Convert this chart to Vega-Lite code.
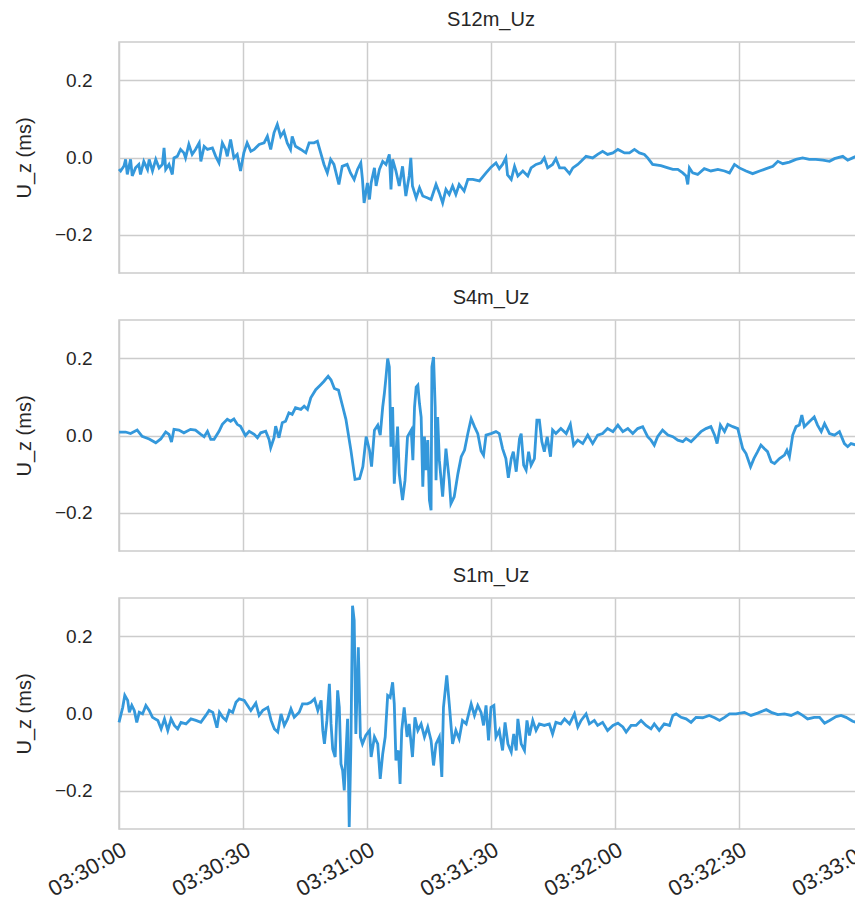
{
  "$schema": "https://vega.github.io/schema/vega-lite/v6.json",
  "padding": {"left": 13, "top": 9, "right": 0, "bottom": 5},
  "config": {
    "font": "Liberation Sans",
    "view": {"stroke": "#cccccc", "strokeWidth": 1.5},
    "axis": {"grid": true, "gridColor": "#cccccc", "gridWidth": 1.5, "domain": false, "ticks": false, "labelFontSize": 19, "labelColor": "#262626", "titleFontSize": 20, "titleColor": "#262626", "titleFontWeight": "normal"},
    "title": {"fontSize": 20, "fontWeight": "normal", "color": "#262626", "offset": 12},
    "concat": {"spacing": 13},
    "line": {"color": "#3498db", "strokeWidth": 2.8, "clip": true}
  },
  "datasets": {
    "s12": [
      {"t":"2021-01-01T03:30:00.0","v":-0.03},{"t":"2021-01-01T03:30:00.4","v":-0.035},{"t":"2021-01-01T03:30:01.2","v":-0.022},{"t":"2021-01-01T03:30:01.6","v":-0.005},{"t":"2021-01-01T03:30:02.0","v":-0.044},{"t":"2021-01-01T03:30:02.8","v":-0.005},{"t":"2021-01-01T03:30:03.2","v":-0.048},{"t":"2021-01-01T03:30:04.0","v":-0.027},{"t":"2021-01-01T03:30:04.8","v":-0.018},{"t":"2021-01-01T03:30:05.2","v":-0.044},{"t":"2021-01-01T03:30:06.0","v":-0.01},{"t":"2021-01-01T03:30:06.9","v":-0.031},{"t":"2021-01-01T03:30:07.3","v":-0.005},{"t":"2021-01-01T03:30:08.1","v":-0.035},{"t":"2021-01-01T03:30:08.9","v":-0.005},{"t":"2021-01-01T03:30:09.7","v":-0.027},{"t":"2021-01-01T03:30:10.5","v":-0.018},{"t":"2021-01-01T03:30:10.9","v":0.025},{"t":"2021-01-01T03:30:11.3","v":-0.031},{"t":"2021-01-01T03:30:12.1","v":-0.018},{"t":"2021-01-01T03:30:12.9","v":-0.044},{"t":"2021-01-01T03:30:13.3","v":-0.001},{"t":"2021-01-01T03:30:14.1","v":0.003},{"t":"2021-01-01T03:30:14.9","v":0.021},{"t":"2021-01-01T03:30:15.7","v":0.012},{"t":"2021-01-01T03:30:16.1","v":-0.001},{"t":"2021-01-01T03:30:16.9","v":0.034},{"t":"2021-01-01T03:30:17.7","v":0.008},{"t":"2021-01-01T03:30:18.5","v":0.021},{"t":"2021-01-01T03:30:19.4","v":0.038},{"t":"2021-01-01T03:30:19.8","v":-0.01},{"t":"2021-01-01T03:30:20.6","v":0.029},{"t":"2021-01-01T03:30:21.4","v":0.021},{"t":"2021-01-01T03:30:22.6","v":0.025},{"t":"2021-01-01T03:30:23.4","v":0.003},{"t":"2021-01-01T03:30:24.2","v":-0.014},{"t":"2021-01-01T03:30:25.0","v":0.038},{"t":"2021-01-01T03:30:25.8","v":0.021},{"t":"2021-01-01T03:30:26.2","v":0.003},{"t":"2021-01-01T03:30:27.0","v":0.047},{"t":"2021-01-01T03:30:27.8","v":-0.001},{"t":"2021-01-01T03:30:28.6","v":0.008},{"t":"2021-01-01T03:30:29.4","v":-0.035},{"t":"2021-01-01T03:30:30.2","v":0.012},{"t":"2021-01-01T03:30:31.0","v":0.038},{"t":"2021-01-01T03:30:31.9","v":0.016},{"t":"2021-01-01T03:30:32.7","v":0.021},{"t":"2021-01-01T03:30:33.9","v":0.034},{"t":"2021-01-01T03:30:35.1","v":0.038},{"t":"2021-01-01T03:30:35.9","v":0.055},{"t":"2021-01-01T03:30:36.7","v":0.021},{"t":"2021-01-01T03:30:37.5","v":0.064},{"t":"2021-01-01T03:30:38.3","v":0.086},{"t":"2021-01-01T03:30:39.1","v":0.055},{"t":"2021-01-01T03:30:39.9","v":0.068},{"t":"2021-01-01T03:30:40.7","v":0.038},{"t":"2021-01-01T03:30:41.5","v":0.021},{"t":"2021-01-01T03:30:41.9","v":0.055},{"t":"2021-01-01T03:30:42.7","v":0.029},{"t":"2021-01-01T03:30:44.0","v":0.021},{"t":"2021-01-01T03:30:45.2","v":0.012},{"t":"2021-01-01T03:30:46.0","v":0.038},{"t":"2021-01-01T03:30:47.2","v":0.038},{"t":"2021-01-01T03:30:48.0","v":0.042},{"t":"2021-01-01T03:30:48.8","v":0.012},{"t":"2021-01-01T03:30:49.6","v":-0.018},{"t":"2021-01-01T03:30:50.4","v":-0.04},{"t":"2021-01-01T03:30:51.2","v":-0.005},{"t":"2021-01-01T03:30:52.0","v":-0.018},{"t":"2021-01-01T03:30:53.2","v":-0.07},{"t":"2021-01-01T03:30:54.0","v":-0.023},{"t":"2021-01-01T03:30:55.2","v":-0.018},{"t":"2021-01-01T03:30:56.0","v":-0.04},{"t":"2021-01-01T03:30:56.9","v":-0.057},{"t":"2021-01-01T03:30:57.7","v":-0.031},{"t":"2021-01-01T03:30:58.5","v":-0.014},{"t":"2021-01-01T03:30:58.9","v":-0.057},{"t":"2021-01-01T03:30:59.3","v":-0.118},{"t":"2021-01-01T03:31:00.1","v":-0.066},{"t":"2021-01-01T03:31:00.6","v":-0.109},{"t":"2021-01-01T03:31:01.0","v":-0.066},{"t":"2021-01-01T03:31:01.8","v":-0.027},{"t":"2021-01-01T03:31:02.2","v":-0.074},{"t":"2021-01-01T03:31:03.0","v":-0.031},{"t":"2021-01-01T03:31:03.8","v":-0.01},{"t":"2021-01-01T03:31:04.6","v":-0.018},{"t":"2021-01-01T03:31:05.4","v":0.008},{"t":"2021-01-01T03:31:05.8","v":-0.083},{"t":"2021-01-01T03:31:06.2","v":-0.005},{"t":"2021-01-01T03:31:07.0","v":-0.035},{"t":"2021-01-01T03:31:07.8","v":-0.074},{"t":"2021-01-01T03:31:08.6","v":-0.023},{"t":"2021-01-01T03:31:09.4","v":-0.1},{"t":"2021-01-01T03:31:10.2","v":-0.048},{"t":"2021-01-01T03:31:10.6","v":-0.001},{"t":"2021-01-01T03:31:11.0","v":-0.074},{"t":"2021-01-01T03:31:11.9","v":-0.105},{"t":"2021-01-01T03:31:12.7","v":-0.079},{"t":"2021-01-01T03:31:13.5","v":-0.1},{"t":"2021-01-01T03:31:14.7","v":-0.105},{"t":"2021-01-01T03:31:15.5","v":-0.109},{"t":"2021-01-01T03:31:16.7","v":-0.07},{"t":"2021-01-01T03:31:17.5","v":-0.092},{"t":"2021-01-01T03:31:18.3","v":-0.118},{"t":"2021-01-01T03:31:19.1","v":-0.083},{"t":"2021-01-01T03:31:19.9","v":-0.096},{"t":"2021-01-01T03:31:20.7","v":-0.074},{"t":"2021-01-01T03:31:21.5","v":-0.096},{"t":"2021-01-01T03:31:22.3","v":-0.07},{"t":"2021-01-01T03:31:23.5","v":-0.087},{"t":"2021-01-01T03:31:24.4","v":-0.057},{"t":"2021-01-01T03:31:25.6","v":-0.057},{"t":"2021-01-01T03:31:27.2","v":-0.061},{"t":"2021-01-01T03:31:28.8","v":-0.04},{"t":"2021-01-01T03:31:30.0","v":-0.025},{"t":"2021-01-01T03:31:31.2","v":-0.014},{"t":"2021-01-01T03:31:32.0","v":-0.029},{"t":"2021-01-01T03:31:32.8","v":-0.018},{"t":"2021-01-01T03:31:33.6","v":-0.001},{"t":"2021-01-01T03:31:34.0","v":-0.045},{"t":"2021-01-01T03:31:34.9","v":-0.057},{"t":"2021-01-01T03:31:35.7","v":-0.023},{"t":"2021-01-01T03:31:36.5","v":-0.048},{"t":"2021-01-01T03:31:37.7","v":-0.035},{"t":"2021-01-01T03:31:38.9","v":-0.048},{"t":"2021-01-01T03:31:39.7","v":-0.027},{"t":"2021-01-01T03:31:40.9","v":-0.018},{"t":"2021-01-01T03:31:42.1","v":-0.014},{"t":"2021-01-01T03:31:42.9","v":-0.001},{"t":"2021-01-01T03:31:43.7","v":-0.027},{"t":"2021-01-01T03:31:44.9","v":-0.018},{"t":"2021-01-01T03:31:45.7","v":-0.003},{"t":"2021-01-01T03:31:46.6","v":-0.027},{"t":"2021-01-01T03:31:47.8","v":-0.027},{"t":"2021-01-01T03:31:49.0","v":-0.042},{"t":"2021-01-01T03:31:49.8","v":-0.027},{"t":"2021-01-01T03:31:51.0","v":-0.018},{"t":"2021-01-01T03:31:51.8","v":-0.01},{"t":"2021-01-01T03:31:53.0","v":0.003},{"t":"2021-01-01T03:31:54.6","v":-0.001},{"t":"2021-01-01T03:31:55.8","v":0.008},{"t":"2021-01-01T03:31:57.0","v":0.016},{"t":"2021-01-01T03:31:58.2","v":0.008},{"t":"2021-01-01T03:31:59.5","v":0.012},{"t":"2021-01-01T03:32:00.7","v":0.021},{"t":"2021-01-01T03:32:02.3","v":0.012},{"t":"2021-01-01T03:32:03.5","v":0.012},{"t":"2021-01-01T03:32:04.7","v":0.021},{"t":"2021-01-01T03:32:05.9","v":0.012},{"t":"2021-01-01T03:32:07.1","v":0.008},{"t":"2021-01-01T03:32:07.9","v":-0.001},{"t":"2021-01-01T03:32:09.1","v":-0.018},{"t":"2021-01-01T03:32:11.1","v":-0.021},{"t":"2021-01-01T03:32:12.8","v":-0.027},{"t":"2021-01-01T03:32:14.0","v":-0.031},{"t":"2021-01-01T03:32:15.2","v":-0.031},{"t":"2021-01-01T03:32:16.4","v":-0.04},{"t":"2021-01-01T03:32:17.2","v":-0.048},{"t":"2021-01-01T03:32:17.6","v":-0.07},{"t":"2021-01-01T03:32:18.0","v":-0.027},{"t":"2021-01-01T03:32:18.8","v":-0.04},{"t":"2021-01-01T03:32:20.0","v":-0.044},{"t":"2021-01-01T03:32:21.6","v":-0.029},{"t":"2021-01-01T03:32:23.2","v":-0.035},{"t":"2021-01-01T03:32:24.9","v":-0.031},{"t":"2021-01-01T03:32:26.5","v":-0.035},{"t":"2021-01-01T03:32:27.7","v":-0.04},{"t":"2021-01-01T03:32:28.9","v":-0.018},{"t":"2021-01-01T03:32:30.1","v":-0.027},{"t":"2021-01-01T03:32:31.7","v":-0.035},{"t":"2021-01-01T03:32:33.3","v":-0.042},{"t":"2021-01-01T03:32:35.0","v":-0.035},{"t":"2021-01-01T03:32:36.6","v":-0.029},{"t":"2021-01-01T03:32:38.2","v":-0.023},{"t":"2021-01-01T03:32:39.4","v":-0.01},{"t":"2021-01-01T03:32:40.6","v":-0.016},{"t":"2021-01-01T03:32:42.2","v":-0.012},{"t":"2021-01-01T03:32:43.8","v":-0.005},{"t":"2021-01-01T03:32:45.4","v":-0.001},{"t":"2021-01-01T03:32:47.0","v":-0.005},{"t":"2021-01-01T03:32:48.6","v":-0.005},{"t":"2021-01-01T03:32:50.3","v":-0.007},{"t":"2021-01-01T03:32:51.9","v":-0.01},{"t":"2021-01-01T03:32:53.1","v":-0.003},{"t":"2021-01-01T03:32:55.1","v":0.003},{"t":"2021-01-01T03:32:56.3","v":-0.007},{"t":"2021-01-01T03:32:57.5","v":-0.001},{"t":"2021-01-01T03:32:58.3","v":0.003},{"t":"2021-01-01T03:33:00.0","v":0.002}
    ],
    "s4": [
      {"t":"2021-01-01T03:30:00.0","v":0.009},{"t":"2021-01-01T03:30:01.6","v":0.009},{"t":"2021-01-01T03:30:02.8","v":0.005},{"t":"2021-01-01T03:30:04.4","v":0.014},{"t":"2021-01-01T03:30:05.6","v":-0.002},{"t":"2021-01-01T03:30:07.3","v":-0.009},{"t":"2021-01-01T03:30:08.9","v":-0.019},{"t":"2021-01-01T03:30:10.1","v":-0.009},{"t":"2021-01-01T03:30:11.3","v":0.009},{"t":"2021-01-01T03:30:12.1","v":0.003},{"t":"2021-01-01T03:30:12.7","v":-0.017},{"t":"2021-01-01T03:30:13.3","v":0.016},{"t":"2021-01-01T03:30:14.5","v":0.014},{"t":"2021-01-01T03:30:15.7","v":0.007},{"t":"2021-01-01T03:30:17.3","v":0.016},{"t":"2021-01-01T03:30:18.5","v":0.014},{"t":"2021-01-01T03:30:19.8","v":0.003},{"t":"2021-01-01T03:30:20.6","v":-0.003},{"t":"2021-01-01T03:30:21.4","v":0.011},{"t":"2021-01-01T03:30:22.2","v":-0.01},{"t":"2021-01-01T03:30:23.0","v":-0.01},{"t":"2021-01-01T03:30:24.2","v":0.011},{"t":"2021-01-01T03:30:25.0","v":0.029},{"t":"2021-01-01T03:30:26.2","v":0.042},{"t":"2021-01-01T03:30:27.0","v":0.037},{"t":"2021-01-01T03:30:27.8","v":0.043},{"t":"2021-01-01T03:30:28.6","v":0.029},{"t":"2021-01-01T03:30:29.4","v":0.024},{"t":"2021-01-01T03:30:30.6","v":0.0},{"t":"2021-01-01T03:30:31.5","v":0.011},{"t":"2021-01-01T03:30:32.7","v":0.003},{"t":"2021-01-01T03:30:33.5","v":-0.006},{"t":"2021-01-01T03:30:34.3","v":0.007},{"t":"2021-01-01T03:30:35.5","v":0.011},{"t":"2021-01-01T03:30:36.3","v":-0.01},{"t":"2021-01-01T03:30:36.7","v":-0.032},{"t":"2021-01-01T03:30:37.5","v":-0.006},{"t":"2021-01-01T03:30:37.9","v":0.024},{"t":"2021-01-01T03:30:38.7","v":-0.006},{"t":"2021-01-01T03:30:39.5","v":0.033},{"t":"2021-01-01T03:30:40.3","v":0.037},{"t":"2021-01-01T03:30:41.1","v":0.059},{"t":"2021-01-01T03:30:41.9","v":0.055},{"t":"2021-01-01T03:30:42.7","v":0.072},{"t":"2021-01-01T03:30:44.0","v":0.068},{"t":"2021-01-01T03:30:44.8","v":0.076},{"t":"2021-01-01T03:30:45.6","v":0.068},{"t":"2021-01-01T03:30:46.4","v":0.098},{"t":"2021-01-01T03:30:47.6","v":0.119},{"t":"2021-01-01T03:30:48.8","v":0.132},{"t":"2021-01-01T03:30:49.6","v":0.141},{"t":"2021-01-01T03:30:50.6","v":0.154},{"t":"2021-01-01T03:30:51.3","v":0.144},{"t":"2021-01-01T03:30:52.1","v":0.122},{"t":"2021-01-01T03:30:53.1","v":0.118},{"t":"2021-01-01T03:30:54.1","v":0.076},{"t":"2021-01-01T03:30:54.9","v":0.042},{"t":"2021-01-01T03:30:56.1","v":-0.038},{"t":"2021-01-01T03:30:57.1","v":-0.114},{"t":"2021-01-01T03:30:58.2","v":-0.112},{"t":"2021-01-01T03:30:59.0","v":-0.081},{"t":"2021-01-01T03:30:59.8","v":-0.003},{"t":"2021-01-01T03:31:00.6","v":-0.038},{"t":"2021-01-01T03:31:01.1","v":-0.081},{"t":"2021-01-01T03:31:01.8","v":0.014},{"t":"2021-01-01T03:31:02.6","v":0.027},{"t":"2021-01-01T03:31:03.2","v":0.001},{"t":"2021-01-01T03:31:03.8","v":0.074},{"t":"2021-01-01T03:31:04.2","v":0.109},{"t":"2021-01-01T03:31:04.6","v":0.152},{"t":"2021-01-01T03:31:05.0","v":0.2},{"t":"2021-01-01T03:31:05.4","v":0.178},{"t":"2021-01-01T03:31:05.8","v":-0.029},{"t":"2021-01-01T03:31:06.2","v":0.074},{"t":"2021-01-01T03:31:06.6","v":-0.125},{"t":"2021-01-01T03:31:07.4","v":0.023},{"t":"2021-01-01T03:31:07.8","v":-0.099},{"t":"2021-01-01T03:31:08.6","v":-0.168},{"t":"2021-01-01T03:31:09.2","v":-0.116},{"t":"2021-01-01T03:31:09.8","v":-0.003},{"t":"2021-01-01T03:31:10.7","v":0.014},{"t":"2021-01-01T03:31:11.1","v":-0.064},{"t":"2021-01-01T03:31:11.5","v":0.074},{"t":"2021-01-01T03:31:11.9","v":0.126},{"t":"2021-01-01T03:31:12.3","v":0.131},{"t":"2021-01-01T03:31:12.7","v":0.083},{"t":"2021-01-01T03:31:13.1","v":0.048},{"t":"2021-01-01T03:31:13.5","v":-0.133},{"t":"2021-01-01T03:31:13.9","v":-0.003},{"t":"2021-01-01T03:31:14.3","v":-0.09},{"t":"2021-01-01T03:31:14.7","v":-0.012},{"t":"2021-01-01T03:31:15.1","v":-0.168},{"t":"2021-01-01T03:31:15.5","v":-0.194},{"t":"2021-01-01T03:31:15.7","v":0.178},{"t":"2021-01-01T03:31:16.1","v":0.204},{"t":"2021-01-01T03:31:16.5","v":0.074},{"t":"2021-01-01T03:31:16.7","v":-0.116},{"t":"2021-01-01T03:31:17.1","v":0.048},{"t":"2021-01-01T03:31:17.5","v":-0.064},{"t":"2021-01-01T03:31:18.3","v":-0.159},{"t":"2021-01-01T03:31:19.1","v":-0.034},{"t":"2021-01-01T03:31:19.9","v":-0.116},{"t":"2021-01-01T03:31:20.3","v":-0.177},{"t":"2021-01-01T03:31:21.1","v":-0.159},{"t":"2021-01-01T03:31:22.0","v":-0.099},{"t":"2021-01-01T03:31:22.8","v":-0.055},{"t":"2021-01-01T03:31:23.6","v":-0.038},{"t":"2021-01-01T03:31:24.4","v":0.005},{"t":"2021-01-01T03:31:25.2","v":0.044},{"t":"2021-01-01T03:31:26.0","v":0.023},{"t":"2021-01-01T03:31:26.8","v":0.005},{"t":"2021-01-01T03:31:27.6","v":-0.04},{"t":"2021-01-01T03:31:28.2","v":-0.051},{"t":"2021-01-01T03:31:28.8","v":0.001},{"t":"2021-01-01T03:31:30.0","v":0.005},{"t":"2021-01-01T03:31:31.2","v":0.01},{"t":"2021-01-01T03:31:32.0","v":0.005},{"t":"2021-01-01T03:31:32.8","v":-0.034},{"t":"2021-01-01T03:31:33.6","v":-0.06},{"t":"2021-01-01T03:31:34.2","v":-0.11},{"t":"2021-01-01T03:31:34.9","v":-0.06},{"t":"2021-01-01T03:31:35.4","v":-0.042},{"t":"2021-01-01T03:31:36.1","v":-0.094},{"t":"2021-01-01T03:31:36.9","v":-0.008},{"t":"2021-01-01T03:31:37.3","v":0.005},{"t":"2021-01-01T03:31:37.9","v":-0.077},{"t":"2021-01-01T03:31:38.5","v":-0.09},{"t":"2021-01-01T03:31:39.1","v":-0.042},{"t":"2021-01-01T03:31:39.7","v":-0.077},{"t":"2021-01-01T03:31:40.5","v":-0.06},{"t":"2021-01-01T03:31:41.1","v":0.04},{"t":"2021-01-01T03:31:41.7","v":0.04},{"t":"2021-01-01T03:31:42.3","v":-0.016},{"t":"2021-01-01T03:31:42.9","v":-0.042},{"t":"2021-01-01T03:31:43.6","v":-0.003},{"t":"2021-01-01T03:31:44.4","v":-0.055},{"t":"2021-01-01T03:31:44.9","v":0.014},{"t":"2021-01-01T03:31:45.7","v":0.005},{"t":"2021-01-01T03:31:46.9","v":0.018},{"t":"2021-01-01T03:31:48.2","v":0.005},{"t":"2021-01-01T03:31:49.2","v":0.029},{"t":"2021-01-01T03:31:50.0","v":-0.025},{"t":"2021-01-01T03:31:51.0","v":-0.012},{"t":"2021-01-01T03:31:52.2","v":-0.021},{"t":"2021-01-01T03:31:53.4","v":0.001},{"t":"2021-01-01T03:31:54.6","v":-0.021},{"t":"2021-01-01T03:31:55.8","v":0.001},{"t":"2021-01-01T03:31:57.0","v":0.005},{"t":"2021-01-01T03:31:58.2","v":0.018},{"t":"2021-01-01T03:31:59.5","v":0.01},{"t":"2021-01-01T03:32:00.7","v":0.027},{"t":"2021-01-01T03:32:01.9","v":0.01},{"t":"2021-01-01T03:32:03.1","v":0.018},{"t":"2021-01-01T03:32:04.3","v":0.005},{"t":"2021-01-01T03:32:05.5","v":0.018},{"t":"2021-01-01T03:32:06.7","v":0.023},{"t":"2021-01-01T03:32:07.9","v":-0.003},{"t":"2021-01-01T03:32:08.7","v":-0.012},{"t":"2021-01-01T03:32:09.5","v":-0.025},{"t":"2021-01-01T03:32:10.3","v":-0.003},{"t":"2021-01-01T03:32:11.5","v":0.014},{"t":"2021-01-01T03:32:12.8","v":0.001},{"t":"2021-01-01T03:32:14.0","v":-0.003},{"t":"2021-01-01T03:32:15.2","v":-0.012},{"t":"2021-01-01T03:32:16.4","v":-0.016},{"t":"2021-01-01T03:32:17.2","v":-0.008},{"t":"2021-01-01T03:32:18.4","v":-0.016},{"t":"2021-01-01T03:32:19.6","v":-0.003},{"t":"2021-01-01T03:32:20.8","v":0.01},{"t":"2021-01-01T03:32:22.0","v":0.018},{"t":"2021-01-01T03:32:23.2","v":0.023},{"t":"2021-01-01T03:32:24.1","v":0.001},{"t":"2021-01-01T03:32:24.7","v":-0.021},{"t":"2021-01-01T03:32:25.5","v":0.027},{"t":"2021-01-01T03:32:26.5","v":0.01},{"t":"2021-01-01T03:32:27.3","v":0.029},{"t":"2021-01-01T03:32:28.5","v":0.023},{"t":"2021-01-01T03:32:29.7","v":0.018},{"t":"2021-01-01T03:32:30.9","v":-0.034},{"t":"2021-01-01T03:32:31.7","v":-0.047},{"t":"2021-01-01T03:32:32.8","v":-0.081},{"t":"2021-01-01T03:32:33.6","v":-0.06},{"t":"2021-01-01T03:32:34.5","v":-0.042},{"t":"2021-01-01T03:32:35.3","v":-0.025},{"t":"2021-01-01T03:32:36.1","v":-0.034},{"t":"2021-01-01T03:32:36.9","v":-0.042},{"t":"2021-01-01T03:32:37.8","v":-0.068},{"t":"2021-01-01T03:32:38.6","v":-0.073},{"t":"2021-01-01T03:32:39.8","v":-0.06},{"t":"2021-01-01T03:32:41.0","v":-0.051},{"t":"2021-01-01T03:32:41.6","v":-0.038},{"t":"2021-01-01T03:32:42.2","v":-0.055},{"t":"2021-01-01T03:32:43.0","v":0.001},{"t":"2021-01-01T03:32:43.8","v":0.023},{"t":"2021-01-01T03:32:44.6","v":0.027},{"t":"2021-01-01T03:32:45.2","v":0.053},{"t":"2021-01-01T03:32:45.8","v":0.023},{"t":"2021-01-01T03:32:47.0","v":0.036},{"t":"2021-01-01T03:32:48.2","v":0.048},{"t":"2021-01-01T03:32:49.0","v":0.027},{"t":"2021-01-01T03:32:49.9","v":0.01},{"t":"2021-01-01T03:32:50.7","v":0.031},{"t":"2021-01-01T03:32:51.9","v":0.005},{"t":"2021-01-01T03:32:53.1","v":0.001},{"t":"2021-01-01T03:32:54.3","v":0.01},{"t":"2021-01-01T03:32:55.5","v":-0.021},{"t":"2021-01-01T03:32:56.3","v":-0.029},{"t":"2021-01-01T03:32:57.1","v":-0.021},{"t":"2021-01-01T03:32:58.3","v":-0.025},{"t":"2021-01-01T03:33:00.0","v":-0.02}
    ],
    "s1": [
      {"t":"2021-01-01T03:30:00.0","v":-0.023},{"t":"2021-01-01T03:30:00.9","v":0.016},{"t":"2021-01-01T03:30:01.4","v":0.047},{"t":"2021-01-01T03:30:02.1","v":0.034},{"t":"2021-01-01T03:30:02.5","v":0.003},{"t":"2021-01-01T03:30:03.1","v":0.021},{"t":"2021-01-01T03:30:03.7","v":0.008},{"t":"2021-01-01T03:30:04.3","v":-0.023},{"t":"2021-01-01T03:30:04.9","v":0.003},{"t":"2021-01-01T03:30:05.7","v":-0.001},{"t":"2021-01-01T03:30:06.5","v":0.021},{"t":"2021-01-01T03:30:07.3","v":0.008},{"t":"2021-01-01T03:30:08.1","v":-0.01},{"t":"2021-01-01T03:30:09.4","v":-0.018},{"t":"2021-01-01T03:30:10.2","v":-0.04},{"t":"2021-01-01T03:30:11.0","v":-0.014},{"t":"2021-01-01T03:30:11.8","v":-0.044},{"t":"2021-01-01T03:30:12.6","v":-0.014},{"t":"2021-01-01T03:30:13.4","v":-0.031},{"t":"2021-01-01T03:30:14.2","v":-0.04},{"t":"2021-01-01T03:30:15.0","v":-0.023},{"t":"2021-01-01T03:30:16.2","v":-0.027},{"t":"2021-01-01T03:30:17.4","v":-0.014},{"t":"2021-01-01T03:30:18.6","v":-0.018},{"t":"2021-01-01T03:30:19.8","v":-0.023},{"t":"2021-01-01T03:30:21.0","v":-0.005},{"t":"2021-01-01T03:30:21.8","v":0.008},{"t":"2021-01-01T03:30:22.7","v":0.003},{"t":"2021-01-01T03:30:23.7","v":-0.037},{"t":"2021-01-01T03:30:24.3","v":0.003},{"t":"2021-01-01T03:30:25.1","v":-0.01},{"t":"2021-01-01T03:30:25.9","v":-0.018},{"t":"2021-01-01T03:30:26.7","v":0.008},{"t":"2021-01-01T03:30:27.5","v":0.003},{"t":"2021-01-01T03:30:28.3","v":0.029},{"t":"2021-01-01T03:30:29.1","v":0.038},{"t":"2021-01-01T03:30:30.3","v":0.034},{"t":"2021-01-01T03:30:31.1","v":0.021},{"t":"2021-01-01T03:30:31.9","v":0.008},{"t":"2021-01-01T03:30:33.1","v":0.027},{"t":"2021-01-01T03:30:33.9","v":-0.005},{"t":"2021-01-01T03:30:34.8","v":0.008},{"t":"2021-01-01T03:30:36.0","v":0.016},{"t":"2021-01-01T03:30:36.8","v":-0.018},{"t":"2021-01-01T03:30:37.6","v":-0.04},{"t":"2021-01-01T03:30:38.4","v":-0.048},{"t":"2021-01-01T03:30:39.2","v":-0.001},{"t":"2021-01-01T03:30:40.0","v":-0.031},{"t":"2021-01-01T03:30:40.8","v":-0.014},{"t":"2021-01-01T03:30:41.6","v":0.012},{"t":"2021-01-01T03:30:42.4","v":-0.01},{"t":"2021-01-01T03:30:43.6","v":0.003},{"t":"2021-01-01T03:30:44.4","v":0.025},{"t":"2021-01-01T03:30:45.6","v":0.025},{"t":"2021-01-01T03:30:46.4","v":0.029},{"t":"2021-01-01T03:30:47.3","v":0.038},{"t":"2021-01-01T03:30:48.1","v":0.008},{"t":"2021-01-01T03:30:48.9","v":0.034},{"t":"2021-01-01T03:30:49.3","v":-0.044},{"t":"2021-01-01T03:30:49.7","v":-0.079},{"t":"2021-01-01T03:30:50.3","v":-0.018},{"t":"2021-01-01T03:30:50.9","v":0.077},{"t":"2021-01-01T03:30:51.3","v":-0.027},{"t":"2021-01-01T03:30:51.7","v":-0.092},{"t":"2021-01-01T03:30:52.3","v":-0.113},{"t":"2021-01-01T03:30:52.9","v":0.06},{"t":"2021-01-01T03:30:53.3","v":0.016},{"t":"2021-01-01T03:30:53.7","v":-0.131},{"t":"2021-01-01T03:30:54.1","v":-0.148},{"t":"2021-01-01T03:30:54.5","v":-0.2},{"t":"2021-01-01T03:30:54.9","v":-0.105},{"t":"2021-01-01T03:30:55.3","v":-0.014},{"t":"2021-01-01T03:30:55.7","v":-0.295},{"t":"2021-01-01T03:30:56.1","v":-0.087},{"t":"2021-01-01T03:30:56.5","v":0.28},{"t":"2021-01-01T03:30:56.9","v":0.242},{"t":"2021-01-01T03:30:57.3","v":-0.053},{"t":"2021-01-01T03:30:57.9","v":0.172},{"t":"2021-01-01T03:30:58.4","v":-0.061},{"t":"2021-01-01T03:30:58.9","v":-0.079},{"t":"2021-01-01T03:30:59.7","v":-0.057},{"t":"2021-01-01T03:31:00.6","v":-0.044},{"t":"2021-01-01T03:31:01.0","v":-0.113},{"t":"2021-01-01T03:31:01.8","v":-0.061},{"t":"2021-01-01T03:31:02.6","v":-0.079},{"t":"2021-01-01T03:31:03.2","v":-0.17},{"t":"2021-01-01T03:31:03.8","v":-0.105},{"t":"2021-01-01T03:31:04.4","v":-0.061},{"t":"2021-01-01T03:31:05.0","v":0.047},{"t":"2021-01-01T03:31:05.6","v":0.042},{"t":"2021-01-01T03:31:06.2","v":0.081},{"t":"2021-01-01T03:31:06.6","v":0.025},{"t":"2021-01-01T03:31:07.0","v":-0.122},{"t":"2021-01-01T03:31:07.6","v":-0.096},{"t":"2021-01-01T03:31:08.0","v":-0.183},{"t":"2021-01-01T03:31:08.4","v":-0.044},{"t":"2021-01-01T03:31:09.0","v":0.016},{"t":"2021-01-01T03:31:09.7","v":-0.061},{"t":"2021-01-01T03:31:10.2","v":-0.027},{"t":"2021-01-01T03:31:11.0","v":-0.113},{"t":"2021-01-01T03:31:11.6","v":-0.01},{"t":"2021-01-01T03:31:12.3","v":-0.044},{"t":"2021-01-01T03:31:13.1","v":-0.027},{"t":"2021-01-01T03:31:13.9","v":-0.061},{"t":"2021-01-01T03:31:14.7","v":-0.035},{"t":"2021-01-01T03:31:15.5","v":-0.07},{"t":"2021-01-01T03:31:16.1","v":-0.135},{"t":"2021-01-01T03:31:16.7","v":-0.079},{"t":"2021-01-01T03:31:17.5","v":-0.061},{"t":"2021-01-01T03:31:18.1","v":-0.165},{"t":"2021-01-01T03:31:18.5","v":0.016},{"t":"2021-01-01T03:31:19.3","v":0.099},{"t":"2021-01-01T03:31:19.9","v":0.025},{"t":"2021-01-01T03:31:20.7","v":-0.079},{"t":"2021-01-01T03:31:21.5","v":-0.044},{"t":"2021-01-01T03:31:22.3","v":-0.066},{"t":"2021-01-01T03:31:23.1","v":-0.018},{"t":"2021-01-01T03:31:24.0","v":-0.027},{"t":"2021-01-01T03:31:25.2","v":0.025},{"t":"2021-01-01T03:31:26.0","v":-0.005},{"t":"2021-01-01T03:31:26.8","v":0.021},{"t":"2021-01-01T03:31:27.6","v":0.003},{"t":"2021-01-01T03:31:28.2","v":-0.031},{"t":"2021-01-01T03:31:28.8","v":0.021},{"t":"2021-01-01T03:31:29.4","v":-0.07},{"t":"2021-01-01T03:31:30.0","v":0.016},{"t":"2021-01-01T03:31:30.7","v":0.021},{"t":"2021-01-01T03:31:31.2","v":-0.061},{"t":"2021-01-01T03:31:32.0","v":-0.044},{"t":"2021-01-01T03:31:32.8","v":-0.096},{"t":"2021-01-01T03:31:33.4","v":-0.023},{"t":"2021-01-01T03:31:34.1","v":-0.079},{"t":"2021-01-01T03:31:34.9","v":-0.1},{"t":"2021-01-01T03:31:35.5","v":-0.053},{"t":"2021-01-01T03:31:36.1","v":-0.096},{"t":"2021-01-01T03:31:36.5","v":-0.014},{"t":"2021-01-01T03:31:37.3","v":-0.079},{"t":"2021-01-01T03:31:38.1","v":-0.096},{"t":"2021-01-01T03:31:38.7","v":-0.018},{"t":"2021-01-01T03:31:39.3","v":-0.057},{"t":"2021-01-01T03:31:40.1","v":-0.018},{"t":"2021-01-01T03:31:40.9","v":-0.044},{"t":"2021-01-01T03:31:41.7","v":-0.027},{"t":"2021-01-01T03:31:42.9","v":-0.031},{"t":"2021-01-01T03:31:44.1","v":-0.027},{"t":"2021-01-01T03:31:44.9","v":-0.053},{"t":"2021-01-01T03:31:45.7","v":-0.023},{"t":"2021-01-01T03:31:46.9","v":-0.027},{"t":"2021-01-01T03:31:47.8","v":-0.014},{"t":"2021-01-01T03:31:49.0","v":-0.027},{"t":"2021-01-01T03:31:50.2","v":-0.001},{"t":"2021-01-01T03:31:51.0","v":-0.035},{"t":"2021-01-01T03:31:51.8","v":-0.018},{"t":"2021-01-01T03:31:53.0","v":-0.001},{"t":"2021-01-01T03:31:53.8","v":-0.027},{"t":"2021-01-01T03:31:55.0","v":-0.018},{"t":"2021-01-01T03:31:55.8","v":-0.031},{"t":"2021-01-01T03:31:57.0","v":-0.023},{"t":"2021-01-01T03:31:58.2","v":-0.044},{"t":"2021-01-01T03:31:59.5","v":-0.031},{"t":"2021-01-01T03:32:00.7","v":-0.025},{"t":"2021-01-01T03:32:01.9","v":-0.035},{"t":"2021-01-01T03:32:02.7","v":-0.048},{"t":"2021-01-01T03:32:03.9","v":-0.031},{"t":"2021-01-01T03:32:05.1","v":-0.031},{"t":"2021-01-01T03:32:06.3","v":-0.018},{"t":"2021-01-01T03:32:07.5","v":-0.031},{"t":"2021-01-01T03:32:08.7","v":-0.04},{"t":"2021-01-01T03:32:09.5","v":-0.027},{"t":"2021-01-01T03:32:10.7","v":-0.044},{"t":"2021-01-01T03:32:11.9","v":-0.027},{"t":"2021-01-01T03:32:13.2","v":-0.031},{"t":"2021-01-01T03:32:14.0","v":-0.005},{"t":"2021-01-01T03:32:14.8","v":-0.001},{"t":"2021-01-01T03:32:16.0","v":-0.01},{"t":"2021-01-01T03:32:17.2","v":-0.014},{"t":"2021-01-01T03:32:18.4","v":-0.023},{"t":"2021-01-01T03:32:19.6","v":-0.01},{"t":"2021-01-01T03:32:21.2","v":-0.011},{"t":"2021-01-01T03:32:22.8","v":-0.005},{"t":"2021-01-01T03:32:24.1","v":-0.011},{"t":"2021-01-01T03:32:25.3","v":-0.018},{"t":"2021-01-01T03:32:26.5","v":-0.01},{"t":"2021-01-01T03:32:27.7","v":-0.001},{"t":"2021-01-01T03:32:29.3","v":-0.001},{"t":"2021-01-01T03:32:31.3","v":0.003},{"t":"2021-01-01T03:32:32.9","v":-0.005},{"t":"2021-01-01T03:32:34.5","v":0.001},{"t":"2021-01-01T03:32:36.6","v":0.01},{"t":"2021-01-01T03:32:37.8","v":0.003},{"t":"2021-01-01T03:32:39.4","v":-0.003},{"t":"2021-01-01T03:32:41.0","v":-0.001},{"t":"2021-01-01T03:32:42.6","v":-0.005},{"t":"2021-01-01T03:32:44.2","v":0.003},{"t":"2021-01-01T03:32:45.4","v":-0.005},{"t":"2021-01-01T03:32:46.6","v":-0.014},{"t":"2021-01-01T03:32:48.2","v":-0.01},{"t":"2021-01-01T03:32:49.5","v":-0.01},{"t":"2021-01-01T03:32:50.7","v":-0.025},{"t":"2021-01-01T03:32:51.9","v":-0.018},{"t":"2021-01-01T03:32:53.5","v":-0.008},{"t":"2021-01-01T03:32:54.7","v":-0.005},{"t":"2021-01-01T03:32:55.9","v":-0.01},{"t":"2021-01-01T03:32:57.5","v":-0.02},{"t":"2021-01-01T03:32:58.3","v":-0.023},{"t":"2021-01-01T03:33:00.0","v":-0.022}
    ]
  },
  "vconcat": [
    {
      "title": "S12m_Uz",
      "width": 744, "height": 231,
      "data": {"name": "s12"},
      "mark": {"type": "line"},
      "encoding": {
        "x": {"field": "t", "type": "temporal",
              "scale": {"domain": [{"year":2021,"month":1,"date":1,"hours":3,"minutes":30,"seconds":0},{"year":2021,"month":1,"date":1,"hours":3,"minutes":33,"seconds":0}]},
              "axis": {"labels": false, "title": null, "values": [{"year":2021,"month":1,"date":1,"hours":3,"minutes":30,"seconds":0},{"year":2021,"month":1,"date":1,"hours":3,"minutes":30,"seconds":30},{"year":2021,"month":1,"date":1,"hours":3,"minutes":31,"seconds":0},{"year":2021,"month":1,"date":1,"hours":3,"minutes":31,"seconds":30},{"year":2021,"month":1,"date":1,"hours":3,"minutes":32,"seconds":0},{"year":2021,"month":1,"date":1,"hours":3,"minutes":32,"seconds":30},{"year":2021,"month":1,"date":1,"hours":3,"minutes":33,"seconds":0}]}},
        "y": {"field": "v", "type": "quantitative", "scale": {"domain": [-0.3, 0.3]},
              "axis": {"values": [-0.2, 0, 0.2], "format": ".1f", "title": "U_z (ms)", "labelPadding": 27, "titlePadding": 20}}
      }
    },
    {
      "title": "S4m_Uz",
      "width": 744, "height": 231,
      "data": {"name": "s4"},
      "mark": {"type": "line"},
      "encoding": {
        "x": {"field": "t", "type": "temporal",
              "scale": {"domain": [{"year":2021,"month":1,"date":1,"hours":3,"minutes":30,"seconds":0},{"year":2021,"month":1,"date":1,"hours":3,"minutes":33,"seconds":0}]},
              "axis": {"labels": false, "title": null, "values": [{"year":2021,"month":1,"date":1,"hours":3,"minutes":30,"seconds":0},{"year":2021,"month":1,"date":1,"hours":3,"minutes":30,"seconds":30},{"year":2021,"month":1,"date":1,"hours":3,"minutes":31,"seconds":0},{"year":2021,"month":1,"date":1,"hours":3,"minutes":31,"seconds":30},{"year":2021,"month":1,"date":1,"hours":3,"minutes":32,"seconds":0},{"year":2021,"month":1,"date":1,"hours":3,"minutes":32,"seconds":30},{"year":2021,"month":1,"date":1,"hours":3,"minutes":33,"seconds":0}]}},
        "y": {"field": "v", "type": "quantitative", "scale": {"domain": [-0.3, 0.3]},
              "axis": {"values": [-0.2, 0, 0.2], "format": ".1f", "title": "U_z (ms)", "labelPadding": 27, "titlePadding": 20}}
      }
    },
    {
      "title": "S1m_Uz",
      "width": 744, "height": 231,
      "data": {"name": "s1"},
      "mark": {"type": "line"},
      "encoding": {
        "x": {"field": "t", "type": "temporal",
              "scale": {"domain": [{"year":2021,"month":1,"date":1,"hours":3,"minutes":30,"seconds":0},{"year":2021,"month":1,"date":1,"hours":3,"minutes":33,"seconds":0}]},
              "axis": {"title": null, "format": "%H:%M:%S", "labelAngle": -30, "labelAlign": "right", "labelBaseline": "top", "labelPadding": 10, "labelFontSize": 22, "values": [{"year":2021,"month":1,"date":1,"hours":3,"minutes":30,"seconds":0},{"year":2021,"month":1,"date":1,"hours":3,"minutes":30,"seconds":30},{"year":2021,"month":1,"date":1,"hours":3,"minutes":31,"seconds":0},{"year":2021,"month":1,"date":1,"hours":3,"minutes":31,"seconds":30},{"year":2021,"month":1,"date":1,"hours":3,"minutes":32,"seconds":0},{"year":2021,"month":1,"date":1,"hours":3,"minutes":32,"seconds":30},{"year":2021,"month":1,"date":1,"hours":3,"minutes":33,"seconds":0}]}},
        "y": {"field": "v", "type": "quantitative", "scale": {"domain": [-0.3, 0.3]},
              "axis": {"values": [-0.2, 0, 0.2], "format": ".1f", "title": "U_z (ms)", "labelPadding": 27, "titlePadding": 20}}
      }
    }
  ]
}
